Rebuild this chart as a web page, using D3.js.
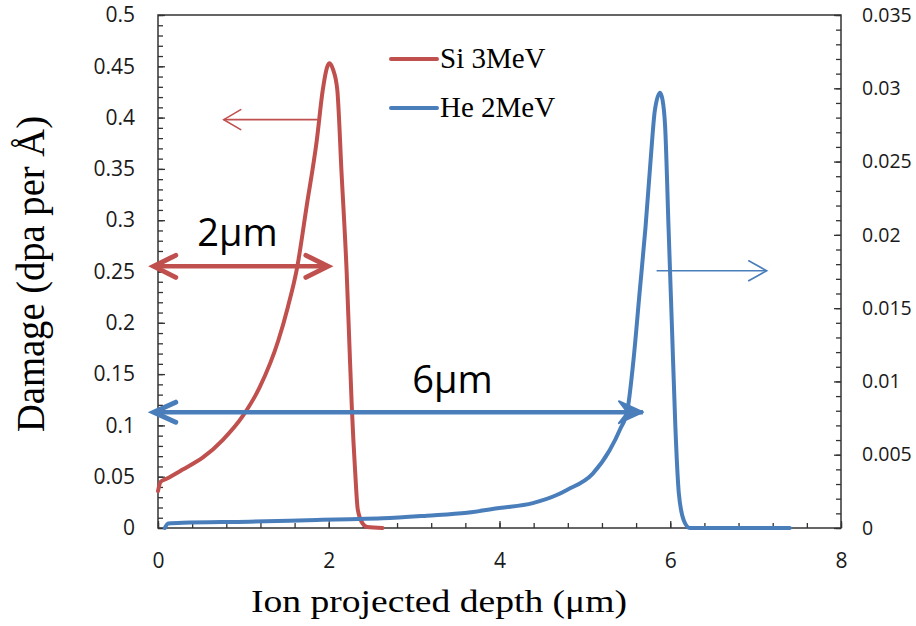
<!DOCTYPE html>
<html>
<head>
<meta charset="utf-8">
<script src="https://cdn.jsdelivr.net/npm/d3@7"></script>
<style>
    body { margin: 0; background: #fff; }
    .tick text { font-family: "Open Sans", sans-serif; font-size: 21px; fill: #1a1a1a; }
    .right-axis .tick text { font-size: 19.5px; }
    .tick line { stroke: #333; stroke-width: 1.3; }
    .axis-title { font-family: "Liberation Serif", "Times New Roman", serif; fill: #000; }
    .legend-text { font-family: "Liberation Serif", "Times New Roman", serif; font-size: 29px; fill: #000; }
    .note { font-family: "Open Sans", sans-serif; font-size: 38px; fill: #000; }
</style>
</head>
<body>
<div id="chart"></div>
<script>
// Si 3MeV damage profile (left axis, dpa per Å)
const siDepth = [0, 0.03, 0.1, 0.29, 0.53, 0.76, 1.0, 1.19, 1.41, 1.52, 1.63, 1.74, 1.86, 1.93, 1.98, 2.01, 2.05, 2.10, 2.15, 2.21, 2.24, 2.27, 2.31, 2.34, 2.40, 2.45, 2.63];
const siDamage = [0.036, 0.045, 0.048, 0.057, 0.069, 0.086, 0.110, 0.137, 0.183, 0.215, 0.254, 0.313, 0.378, 0.427, 0.449, 0.453, 0.447, 0.427, 0.346, 0.249, 0.183, 0.118, 0.054, 0.018, 0.004, 0.001, 0];

// He 2MeV damage profile (right axis)
const heDepth = [0.08, 0.12, 0.29, 1.07, 1.86, 2.25, 2.63, 3.15, 3.62, 4.0, 4.39, 4.67, 4.79, 5.09, 5.29, 5.41, 5.50, 5.57, 5.64, 5.71, 5.77, 5.82, 5.88, 5.91, 5.94, 5.98, 6.02, 6.06, 6.10, 6.16, 6.23, 7.40];
const heDamage = [0, 0.0003, 0.00036, 0.00043, 0.00055, 0.0006, 0.00066, 0.00084, 0.00104, 0.00136, 0.0017, 0.00225, 0.0026, 0.0037, 0.0053, 0.0067, 0.0081, 0.0115, 0.016, 0.0205, 0.0251, 0.0285, 0.0297, 0.0292, 0.0274, 0.0205, 0.0137, 0.0069, 0.0024, 0.0005, 0, 0];

const xTicks = [0, 2, 4, 6, 8];
const leftTicks = [0, 0.05, 0.1, 0.15, 0.2, 0.25, 0.3, 0.35, 0.4, 0.45, 0.5];
const rightTicks = [0, 0.005, 0.01, 0.015, 0.02, 0.025, 0.03, 0.035];
const seriesNames = ["Si 3MeV", "He 2MeV"];

const width = 916, height = 626;
const plot = { left: 158, right: 841, top: 15, bottom: 528 };
const red = "#C0504D", blue = "#4A7EBB";

const svg = d3.select("#chart").append("svg")
    .attr("width", width)
    .attr("height", height)
    .style("display", "block");

const x = d3.scaleLinear().domain([0, 8]).range([plot.left, plot.right]);
const yL = d3.scaleLinear().domain([0, 0.5]).range([plot.bottom, plot.top]);
const yR = d3.scaleLinear().domain([0, 0.035]).range([plot.bottom, plot.top]);

const fmt = d => d === 0 ? "0" : String(+d.toFixed(3));

/* minor ticks */
svg.append("g").attr("transform", `translate(0,${yL(0)})`)
    .call(d3.axisBottom(x).tickValues(d3.range(0, 8.001, 0.4)).tickSize(-5).tickFormat(""))
    .call(g => g.select(".domain").remove());
svg.append("g").attr("transform", `translate(${x(0)},0)`)
    .call(d3.axisLeft(yL).tickValues(d3.range(0, 0.5001, 0.01)).tickSize(-5).tickFormat(""))
    .call(g => g.select(".domain").remove());
svg.append("g").attr("transform", `translate(${x(8)},0)`)
    .call(d3.axisRight(yR).tickValues(d3.range(0, 0.0351, 0.001)).tickSize(-5).tickFormat(""))
    .call(g => g.select(".domain").remove());

/* major ticks + labels */
svg.append("g").attr("transform", `translate(0,${yL(0)})`)
    .call(d3.axisBottom(x).tickValues(xTicks).tickSize(-7).tickPadding(25).tickFormat(fmt))
    .call(g => g.select(".domain").remove());
svg.append("g").attr("transform", `translate(${x(0)},0)`)
    .call(d3.axisLeft(yL).tickValues(leftTicks).tickSize(-7).tickPadding(23).tickFormat(fmt))
    .call(g => g.select(".domain").remove());
svg.append("g").attr("class", "right-axis").attr("transform", `translate(${x(8)},0)`)
    .call(d3.axisRight(yR).tickValues(rightTicks).tickSize(-7).tickPadding(21).tickFormat(fmt))
    .call(g => g.select(".domain").remove());

svg.selectAll(".tick text").attr("font-family", null).attr("font-size", null).attr("fill", null);

// plot frame
svg.append("rect")
    .attr("x", x(0)).attr("y", yL(0.5))
    .attr("width", x(8) - x(0)).attr("height", yL(0) - yL(0.5))
    .attr("fill", "none").attr("stroke", "#333").attr("stroke-width", 1.5);

/* curves */
const siLine = d3.line().x((d, i) => x(siDepth[i])).y(d => yL(d)).curve(d3.curveMonotoneX);
const heLine = d3.line().x((d, i) => x(heDepth[i])).y(d => yR(d)).curve(d3.curveMonotoneX);

svg.append("path").attr("d", siLine(siDamage))
    .attr("fill", "none").attr("stroke", red).attr("stroke-width", 4)
    .attr("stroke-linejoin", "round").attr("stroke-linecap", "round");
svg.append("path").attr("d", heLine(heDamage))
    .attr("fill", "none").attr("stroke", blue).attr("stroke-width", 4)
    .attr("stroke-linejoin", "round").attr("stroke-linecap", "round");

/* annotations */
const drawHead = (tx, ty, dir, len, spread, color, w, filled) => {
    const bx = tx - dir * len;
    if (filled) {
        svg.append("path")
            .attr("d", `M${bx},${ty - spread}L${tx},${ty}L${bx},${ty + spread}L${bx + dir * len * 0.35},${ty}Z`)
            .attr("fill", color).attr("stroke", color).attr("stroke-width", 2).attr("stroke-linejoin", "round");
    } else {
        svg.append("path")
            .attr("d", `M${bx},${ty - spread}L${tx},${ty}L${bx},${ty + spread}`)
            .attr("fill", "none").attr("stroke", color).attr("stroke-width", w)
            .attr("stroke-linecap", "round").attr("stroke-linejoin", "miter");
    }
};

const arrow = (x1, x2, yPix, color, w, heads) => {
    svg.append("line")
        .attr("x1", x1).attr("x2", x2).attr("y1", yPix).attr("y2", yPix)
        .attr("stroke", color).attr("stroke-width", w);
    heads.forEach(h => {
        const atEnd = h.at === "end";
        const dir = atEnd ? Math.sign(x2 - x1) : Math.sign(x1 - x2);
        drawHead(atEnd ? x2 : x1, yPix, dir, h.len, h.spread, color, h.w || w, h.filled);
    });
};

// thin pointers to the axis each curve uses
arrow(x(1.87), x(0.77), yL(0.398), red, 1.6, [{ at: "end", len: 17, spread: 10, w: 1.6 }]);
arrow(x(5.84), x(7.13), yR(0.01755), blue, 1.6, [{ at: "end", len: 18, spread: 10, w: 1.6 }]);

// range arrows
arrow(x(-0.05), x(1.99), yL(0.255), red, 4.5, [
    { at: "start", len: 22, spread: 11, w: 5 },
    { at: "end", len: 22, spread: 11, w: 5 }
]);
arrow(x(-0.05), x(5.68), yR(0.0079), blue, 4.5, [
    { at: "start", len: 22, spread: 10, w: 5 },
    { at: "end", len: 24, spread: 11, filled: true }
]);

svg.append("text").attr("class", "note")
    .attr("x", x(0.93)).attr("y", yL(0.275)).attr("text-anchor", "middle").text("2μm");
svg.append("text").attr("class", "note")
    .attr("x", x(3.45)).attr("y", yL(0.132)).attr("text-anchor", "middle").text("6μm");

/* legend */
const legend = svg.append("g");
[red, blue].forEach((c, i) => {
    const ly = 59 + i * 49;
    legend.append("line")
        .attr("x1", 391).attr("x2", 437).attr("y1", ly).attr("y2", ly)
        .attr("stroke", c).attr("stroke-width", 4).attr("stroke-linecap", "round");
    legend.append("text").attr("class", "legend-text")
        .attr("x", 440).attr("y", ly + 8.5).text(seriesNames[i]);
});

/* axis titles */
svg.append("text").attr("class", "axis-title")
    .attr("x", 439).attr("y", 612)
    .attr("text-anchor", "middle")
    .attr("font-size", 31)
    .attr("textLength", 376).attr("lengthAdjust", "spacingAndGlyphs")
    .text("Ion projected depth (μm)");

svg.append("text").attr("class", "axis-title")
    .attr("transform", "translate(44,274) rotate(-90)")
    .attr("text-anchor", "middle")
    .attr("font-size", 39)
    .attr("textLength", 316).attr("lengthAdjust", "spacingAndGlyphs")
    .text("Damage (dpa per Å)");
</script>
</body>
</html>
